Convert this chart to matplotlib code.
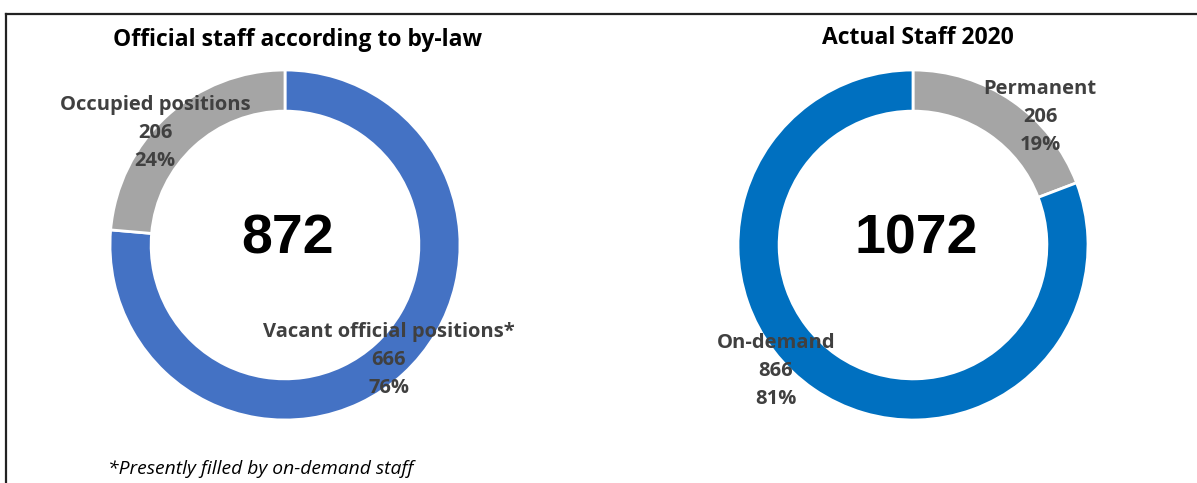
import matplotlib.pyplot as plt
from matplotlib.lines import Line2D

# dados dos dois anéis
off_labels = ['Vacant official positions*', 'Occupied positions']
off_values = [666, 206]
off_pct = ['76%', '24%']
off_total = 872

act_labels = ['Permanent', 'On-demand']
act_values = [206, 866]
act_pct = ['19%', '81%']
act_total = 1072

W, H = 1197, 483
fig = plt.figure(figsize=(W / 100, H / 100), dpi=100)
ax = fig.add_axes([0, 0, 1, 1])

def py(y):
    # converte coordenada de pixel (topo=0) para dado
    return H - y

R = 175
ring = 0.235
FONT = 'Open Sans'
lab_font = dict(fontsize=14.5, fontweight='bold', color='#404040', family=FONT,
                ha='center', va='center', linespacing=1.55)

# anel esquerdo: quadro oficial
ax.pie(off_values, colors=['#4472C4', '#A5A5A5'], startangle=90, counterclock=False,
       center=(285, py(245)), radius=R,
       wedgeprops=dict(width=R * ring, edgecolor='white', linewidth=2))
ax.text(288, py(239), str(off_total), fontsize=40, fontweight='bold',
        family='Liberation Sans', ha='center', va='center')
ax.text(155, py(133), f'{off_labels[1]}\n{off_values[1]}\n{off_pct[1]}', **lab_font)
ax.text(389, py(360), f'{off_labels[0]}\n{off_values[0]}\n{off_pct[0]}', **lab_font)
ax.text(298, py(40), 'Official staff according to by-law', fontsize=16.5,
        fontweight='bold', family=FONT, ha='center', va='center')

# anel direito: pessoal efetivo 2020
ax.pie(act_values, colors=['#A5A5A5', '#0070C0'], startangle=90, counterclock=False,
       center=(913, py(245)), radius=R,
       wedgeprops=dict(width=R * ring, edgecolor='white', linewidth=2))
ax.text(916, py(239), str(act_total), fontsize=40, fontweight='bold',
        family='Liberation Sans', ha='center', va='center')
ax.text(1040, py(117), f'{act_labels[0]}\n{act_values[0]}\n{act_pct[0]}', **lab_font)
ax.text(776, py(371), f'{act_labels[1]}\n{act_values[1]}\n{act_pct[1]}', **lab_font)
ax.text(918, py(38), 'Actual Staff 2020', fontsize=16.5,
        fontweight='bold', family=FONT, ha='center', va='center')

ax.text(108, py(469), '*Presently filled by on-demand staff', fontsize=13.9,
        style='italic', family=FONT, ha='left', va='center')

# moldura (topo e lado esquerdo)
ax.add_line(Line2D([6, W], [py(14), py(14)], color='#222222', linewidth=1.6))
ax.add_line(Line2D([6, 6], [py(14), 0], color='#222222', linewidth=1.6))

ax.set_xlim(0, W)
ax.set_ylim(0, H)
ax.set_aspect('equal')
ax.axis('off')

fig.savefig('out.png', dpi=100, facecolor='white')
